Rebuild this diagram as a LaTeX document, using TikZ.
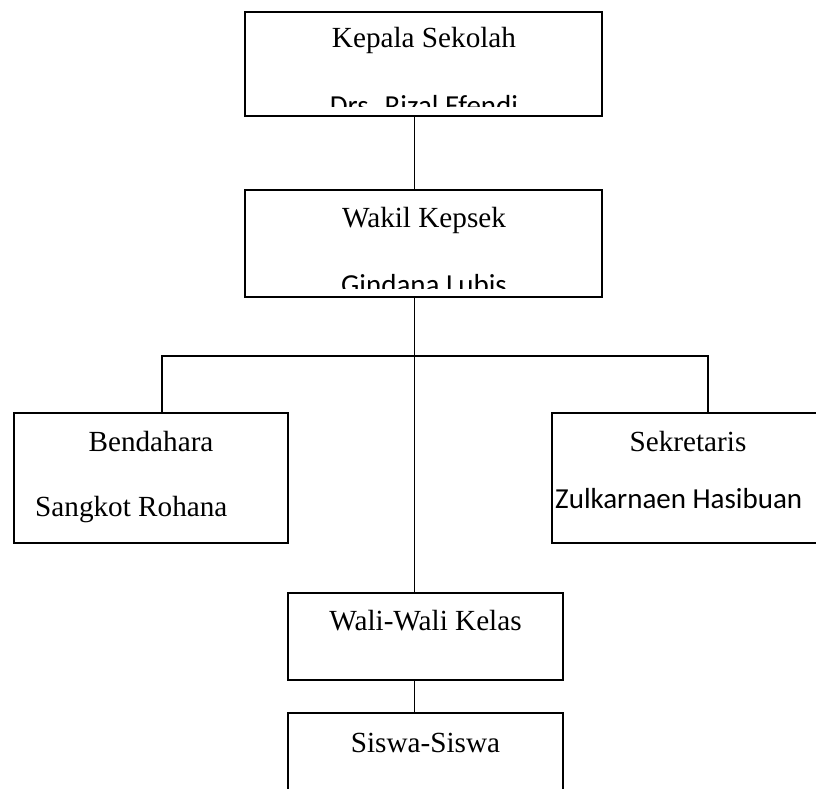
\documentclass[tikz,border=0pt]{standalone}
\usepackage{fontspec}
\setmainfont{Liberation Serif}
\newfontfamily\calfont{Carlito}
\begin{document}
\begin{tikzpicture}[x=1pt,y=-1pt,
  orgbox/.style={draw=black,line width=1.6pt,rectangle,inner sep=0pt,minimum width=#1},
  conn/.style={draw=black,line width=1.5pt},
  lbl/.style={anchor=base,inner sep=0pt,font=\fontsize{29.2}{35}\selectfont},
  lbls/.style={anchor=base,inner sep=0pt,font=\calfont\fontsize{29}{35}\selectfont}]
\useasboundingbox (0,0) rectangle (816,789);
\clip (0,0) rectangle (816,789);
% boxes
\node[orgbox=357pt,minimum height=104pt] (kepala) at (423.5,64) {};
\node[orgbox=357pt,minimum height=107pt] (wakil) at (423.5,243.5) {};
\node[orgbox=274pt,minimum height=130pt] (bendahara) at (151,478) {};
\node[orgbox=272pt,minimum height=130pt] (sekretaris) at (688,478) {};
\node[orgbox=275pt,minimum height=87pt] (wali) at (425.5,636.5) {};
\node[orgbox=275pt,minimum height=100pt] (siswa) at (425.5,763) {};
% texts
\node[lbl] (t1) at (424,48) {Kepala Sekolah};
\begin{scope}
\clip (246,60) rectangle (601,107);
\node[lbls] (t2) at (424,115.5) {Drs. Rizal Efendi};
\end{scope}
\node[lbl] (t3) at (424,227) {Wakil Kepsek};
\begin{scope}
\clip (246,240) rectangle (601,288);
\node[lbls] (t4) at (424,294) {Gindana Lubis};
\end{scope}
\node[lbl] (t5) at (151,451) {Bendahara};
\node[lbl,anchor=base west] (t6) at (35,516) {Sangkot Rohana};
\node[lbl] (t7) at (688,451) {Sekretaris};
\node[lbls,anchor=base west] (t8) at (555,508.5) {Zulkarnaen Hasibuan};
\node[lbl] (t9) at (425.5,630) {Wali-Wali Kelas};
\node[lbl] (t10) at (425.5,752) {Siswa-Siswa};
% connectors
\coordinate (trunk) at (414.5,0);
\coordinate (busL) at (162,356);
\coordinate (busR) at (708,356);
\draw[conn] (kepala.south -| trunk) -- (wakil.north -| trunk);
\draw[conn] (wakil.south -| trunk) -- (wali.north -| trunk);
\draw[conn] (bendahara.north -| busL) -- (busL) -- (busR) -- (sekretaris.north -| busR);
\draw[conn] (wali.south -| trunk) -- (siswa.north -| trunk);
\end{tikzpicture}
\end{document}
